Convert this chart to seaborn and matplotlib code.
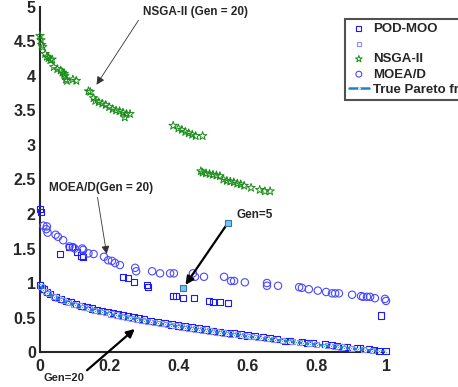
import matplotlib
matplotlib.use("Agg")
import matplotlib.pyplot as plt
import seaborn as sns
import pandas as pd

# valores
front_x = [0.0, 0.01, 0.02, 0.04, 0.06, 0.08, 0.1, 0.12, 0.14, 0.16, 0.18, 0.2, 0.22, 0.24,
           0.26, 0.28, 0.3, 0.32, 0.34, 0.36, 0.38, 0.4, 0.42, 0.44, 0.46, 0.48, 0.5, 0.52,
           0.54, 0.56, 0.58, 0.6, 0.62, 0.64, 0.66, 0.68, 0.7, 0.72, 0.74, 0.76, 0.78, 0.8,
           0.82, 0.84, 0.86, 0.88, 0.9, 0.92, 0.94, 0.96, 0.98, 1.0]
front_y = [0.98, 0.9, 0.859, 0.8, 0.755, 0.717, 0.684, 0.654, 0.626, 0.6, 0.576, 0.553, 0.531,
           0.51, 0.49, 0.471, 0.452, 0.434, 0.417, 0.4, 0.384, 0.368, 0.352, 0.337, 0.322,
           0.307, 0.293, 0.279, 0.265, 0.252, 0.238, 0.225, 0.213, 0.2, 0.188, 0.175, 0.163,
           0.151, 0.14, 0.128, 0.117, 0.106, 0.094, 0.083, 0.073, 0.062, 0.051, 0.041, 0.03,
           0.02, 0.01, 0.0]

pod_x = [0.0, 0.005, 0.01, 0.02, 0.03, 0.045, 0.06, 0.075, 0.09, 0.105, 0.12, 0.135, 0.15,
         0.165, 0.18, 0.195, 0.21, 0.225, 0.24, 0.255, 0.27, 0.285, 0.3, 0.32, 0.34, 0.36,
         0.38, 0.4, 0.42, 0.44, 0.46, 0.48, 0.5, 0.52, 0.54, 0.56, 0.58, 0.6, 0.62, 0.645,
         0.665, 0.685, 0.708, 0.722, 0.757, 0.772, 0.789, 0.824, 0.844, 0.858, 0.879, 0.887,
         0.916, 0.925, 0.951, 0.965, 0.98, 1.0,
         # Gen = 5
         0.0, 0.002, 0.058, 0.083, 0.093, 0.108, 0.12, 0.125, 0.24, 0.254, 0.272, 0.309,
         0.312, 0.385, 0.393, 0.414, 0.445, 0.488, 0.5, 0.52, 0.543, 0.986]
pod_y = [0.97, 0.93, 0.91, 0.87, 0.84, 0.8, 0.77, 0.74, 0.72, 0.695, 0.67, 0.65, 0.63, 0.61,
         0.59, 0.575, 0.56, 0.545, 0.53, 0.515, 0.5, 0.485, 0.47, 0.45, 0.435, 0.42, 0.4,
         0.385, 0.37, 0.355, 0.34, 0.325, 0.31, 0.295, 0.28, 0.27, 0.255, 0.24, 0.23, 0.215,
         0.2, 0.19, 0.165, 0.16, 0.145, 0.13, 0.13, 0.116, 0.1, 0.087, 0.072, 0.072, 0.058,
         0.058, 0.043, 0.029, 0.02, 0.01,
         2.07, 2.03, 1.42, 1.52, 1.52, 1.45, 1.4, 1.38, 1.09, 1.07, 1.01, 0.97, 0.94, 0.81,
         0.81, 0.78, 0.78, 0.74, 0.72, 0.72, 0.71, 0.53]

pod2_x = [0.003, 0.015, 0.025, 0.038, 0.052, 0.068, 0.083, 0.098, 0.113, 0.128, 0.143, 0.158,
          0.173, 0.19, 0.205, 0.22, 0.235, 0.25, 0.265, 0.28, 0.295, 0.31, 0.33, 0.35, 0.37,
          0.39, 0.41, 0.43, 0.45, 0.47, 0.49, 0.51, 0.53, 0.55, 0.57, 0.59, 0.61, 0.63, 0.655,
          0.675, 0.7, 0.73, 0.75, 0.78, 0.8, 0.83, 0.85, 0.87, 0.9, 0.935, 0.96]
pod2_y = [0.95, 0.88, 0.845, 0.81, 0.775, 0.745, 0.715, 0.69, 0.67, 0.645, 0.625, 0.605, 0.59,
          0.57, 0.55, 0.535, 0.52, 0.505, 0.49, 0.475, 0.46, 0.447, 0.43, 0.412, 0.395, 0.38,
          0.363, 0.348, 0.333, 0.318, 0.304, 0.29, 0.276, 0.262, 0.25, 0.236, 0.223, 0.211,
          0.196, 0.183, 0.168, 0.15, 0.139, 0.122, 0.11, 0.094, 0.083, 0.072, 0.056, 0.038,
          0.025]

nsga_x = [0.0, 0.003, 0.005, 0.008, 0.015, 0.02, 0.025, 0.03, 0.035, 0.04, 0.05, 0.06, 0.065,
          0.07, 0.072, 0.075, 0.078, 0.095, 0.105, 0.14, 0.145, 0.155, 0.16, 0.17, 0.18, 0.19,
          0.2, 0.21, 0.22, 0.23, 0.24, 0.25, 0.245, 0.26, 0.385, 0.4, 0.41, 0.42, 0.43, 0.44,
          0.45, 0.47, 0.465, 0.47, 0.48, 0.49, 0.5, 0.51, 0.52, 0.53, 0.54, 0.55, 0.56, 0.57,
          0.58, 0.59, 0.61, 0.635, 0.65, 0.665]
nsga_y = [4.58, 4.52, 4.45, 4.42, 4.32, 4.28, 4.26, 4.23, 4.24, 4.13, 4.1, 4.08, 4.05, 4.03,
          4.0, 3.95, 3.93, 3.95, 3.93, 3.78, 3.77, 3.68, 3.64, 3.62, 3.6, 3.58, 3.55, 3.52, 3.5,
          3.49, 3.47, 3.45, 3.4, 3.45, 3.28, 3.24, 3.22, 3.19, 3.17, 3.15, 3.13, 3.13, 2.62,
          2.6, 2.59, 2.58, 2.57, 2.56, 2.55, 2.5, 2.48, 2.47, 2.46, 2.44, 2.43, 2.41, 2.38,
          2.35, 2.33, 2.33]

moead_x = [0.01, 0.02, 0.018, 0.022, 0.045, 0.052, 0.067, 0.085, 0.095, 0.1, 0.122, 0.125,
           0.14, 0.155, 0.185, 0.197, 0.208, 0.217, 0.231, 0.275, 0.278, 0.324, 0.347, 0.376,
           0.387, 0.442, 0.448, 0.474, 0.532, 0.552, 0.561, 0.592, 0.656, 0.656, 0.688, 0.749,
           0.757, 0.777, 0.803, 0.827, 0.844, 0.853, 0.864, 0.902, 0.928, 0.934, 0.945, 0.954,
           0.968, 0.997, 1.0]
moead_y = [1.83, 1.82, 1.78, 1.73, 1.7, 1.67, 1.62, 1.53, 1.52, 1.5, 1.5, 1.48, 1.43, 1.42,
           1.38, 1.33, 1.32, 1.29, 1.26, 1.22, 1.17, 1.17, 1.14, 1.14, 1.14, 1.14, 1.09, 1.09,
           1.09, 1.03, 1.03, 1.01, 1.0, 0.96, 0.96, 0.94, 0.93, 0.91, 0.89, 0.87, 0.85, 0.85,
           0.85, 0.83, 0.81, 0.8, 0.8, 0.8, 0.78, 0.77, 0.74]

gen5_x = [0.543, 0.414]
gen5_y = [1.87, 0.93]

x_ticks = [0, 0.2, 0.4, 0.6, 0.8, 1]
y_ticks = [0, 0.5, 1, 1.5, 2, 2.5, 3, 3.5, 4, 4.5, 5]

sns.set_style("white")
plt.rcParams['font.family'] = ['Liberation Sans', 'DejaVu Sans']
plt.rcParams['font.weight'] = 'bold'

fig = plt.figure(figsize=(4.58, 3.87), dpi=100)
ax = fig.add_axes([0.0873, 0.0904, 0.7555, 0.8916])

sc = dict(ax=ax, clip_on=False, zorder=3)
sns.scatterplot(x=pod_x, y=pod_y, marker='s', s=20, facecolor='none', edgecolor='#1a1aff',
                linewidth=0.8, label='POD-MOO', **sc)
sns.scatterplot(x=pod2_x, y=pod2_y, marker='s', s=14, facecolor='none', edgecolor='#8c8cff',
                linewidth=0.8, label=' ', **sc)
sns.scatterplot(x=nsga_x, y=nsga_y, marker='*', s=40, facecolor='none', edgecolor='#1a8c1a',
                linewidth=0.7, label='NSGA-II', **sc)
sns.scatterplot(x=moead_x, y=moead_y, marker='o', s=28, facecolor='none', edgecolor='#4a4aff',
                linewidth=0.8, label='MOEA/D', **sc)
sns.lineplot(x=front_x, y=front_y, color='#1a84c4', linewidth=1.8, marker='.', markersize=3,
             label='True Pareto front', ax=ax, zorder=4, sort=False)
sns.scatterplot(x=gen5_x, y=gen5_y, marker='s', s=22, color='#7cc4ec', edgecolor='#2a78b8',
                linewidth=0.8, ax=ax, zorder=5, clip_on=False)

ax.set_xlim(0, 1)
ax.set_ylim(0, 5)
ax.set_xticks(x_ticks)
ax.set_xticklabels(['0', '0.2', '0.4', '0.6', '0.8', '1'])
ax.set_yticks(y_ticks)
ax.set_yticklabels(['0', '0.5', '1', '1.5', '2', '2.5', '3', '3.5', '4', '4.5', '5'])
ax.tick_params(direction='in', length=3, width=1, labelsize=11.5, colors='#262626')
ax.tick_params(axis='x', pad=5)
ax.tick_params(axis='y', pad=3)
for lado in ['top', 'right']:
    ax.spines[lado].set_visible(False)
for lado in ['left', 'bottom']:
    ax.spines[lado].set_linewidth(1.5)
    ax.spines[lado].set_color('#262626')

# anotações
fino = dict(arrowstyle='-|>', color='#333333', lw=0.6, mutation_scale=12)
grosso = dict(arrowstyle='-|>', color='black', lw=1.6, mutation_scale=12)
ax.annotate('', xy=(0.159, 3.84), xytext=(0.289, 4.84), arrowprops=fino, annotation_clip=False)
ax.text(0.297, 4.93, 'NSGA-II (Gen = 20)', fontsize=8.5, va='center', ha='left')
ax.annotate('', xy=(0.194, 1.38), xytext=(0.165, 2.28), arrowprops=fino, annotation_clip=False)
ax.text(0.026, 2.38, 'MOEA/D(Gen = 20)', fontsize=8.5, va='center', ha='left')
ax.annotate('', xy=(0.416, 0.94), xytext=(0.543, 1.87), arrowprops=grosso, annotation_clip=False)
ax.text(0.569, 1.99, 'Gen=5', fontsize=8.5, va='center', ha='left')
ax.annotate('', xy=(0.28, 0.36), xytext=(0.13, -0.29), arrowprops=grosso, annotation_clip=False)
ax.text(0.009, -0.38, 'Gen=20', fontsize=8, va='center', ha='left', clip_on=False)

leg = ax.legend(loc='upper left', bbox_to_anchor=(345 / 458, 1 - 19 / 387),
                bbox_transform=fig.transFigure, fontsize=9.5, frameon=True, fancybox=False,
                handlelength=1.5, handletextpad=0.3, borderpad=0.3, labelspacing=0.22,
                borderaxespad=0, markerscale=0.8)
leg.get_frame().set_edgecolor('#262626')
leg.get_frame().set_linewidth(1.5)

fig.savefig('out.png', dpi=100)
